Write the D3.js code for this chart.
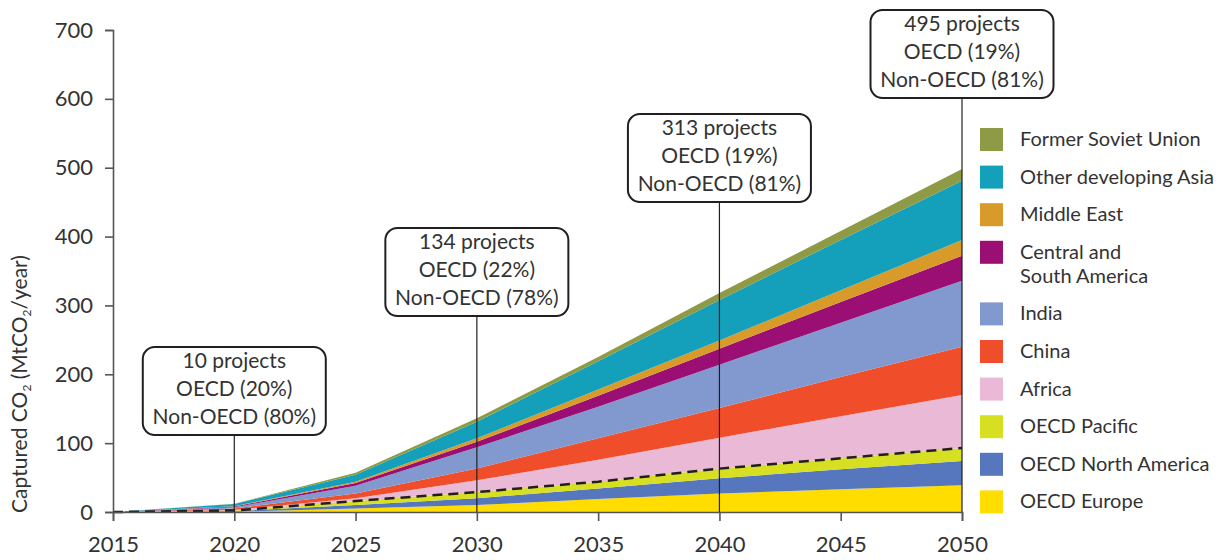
<!doctype html>
<html>
<head>
    <script src="https://d3js.org/d3.v7.min.js"></script>
    <style>
      body { margin: 0; background: #fff; }
      text { font-family: Lato, "Open Sans", sans-serif; fill: #333; }
    </style>
</head>
<body>
    <svg id="chart" width="1231" height="560"></svg>
    <script>
        // Data (MtCO2/year per region)
        const years = [2015, 2020, 2025, 2030, 2035, 2040, 2045, 2050];
        const oecdEurope = [0, 0.5, 5, 10, 19, 27, 33, 39];
        const oecdNorthAmerica = [0, 1, 5, 10, 15, 22, 29, 35];
        const oecdPacific = [0, 0.7, 6, 9, 10, 14, 16, 19];
        const africa = [0, 0.8, 4, 17, 32, 45, 61, 77];
        const china = [0, 2, 7, 17, 31, 43, 57, 70];
        const india = [0, 2, 11, 31, 46, 63, 79, 96];
        const centralSouthAmerica = [0, 1, 4, 8, 16, 23, 30, 36];
        const middleEast = [0, 0.5, 2, 5, 9, 12, 17, 23];
        const otherAsia = [0, 3, 10, 24, 41, 59, 73, 86];
        const formerSoviet = [0, 0.5, 3, 5, 6, 10, 13, 17];

        const seriesNames = ["OECD Europe", "OECD North America", "OECD Pacific", "Africa", "China",
                             "India", "Central and South America", "Middle East", "Other developing Asia", "Former Soviet Union"];
        const seriesValues = [oecdEurope, oecdNorthAmerica, oecdPacific, africa, china,
                              india, centralSouthAmerica, middleEast, otherAsia, formerSoviet];
        const colors = ["#ffdd00", "#5677be", "#d7df23", "#eab9d6", "#f04e2a",
                        "#8199ce", "#9b0e74", "#d89b2a", "#14a0ba", "#8e9a45"];

        const yTicks = [0, 100, 200, 300, 400, 500, 600, 700];
        const xTicks = [2015, 2020, 2025, 2030, 2035, 2040, 2045, 2050];

        // annotation boxes
        const noteYears = [2020, 2030, 2040, 2050];
        const noteProjects = [10, 134, 313, 495];
        const noteOecd = [20, 22, 19, 19];
        const noteTop = [347, 228, 114, 10];

        const svg = d3.select("#chart");
        const margin = { top: 30, left: 113, right: 269, bottom: 48 };
        const width = 1231 - margin.left - margin.right;
        const height = 560 - margin.top - margin.bottom;

        const g = svg.append("g").attr("transform", `translate(${margin.left},${margin.top})`);

        const x = d3.scaleLinear().domain([2015, 2050]).range([0, width]);
        const y = d3.scaleLinear().domain([0, 700]).range([height, 0]);

        // table for the stack
        const table = years.map((yr, i) => {
          const row = { year: yr };
          seriesNames.forEach((n, k) => row[n] = seriesValues[k][i]);
          return row;
        });
        const stacked = d3.stack().keys(seriesNames)(table);

        const area = d3.area()
          .x(d => x(d.data.year))
          .y0(d => y(d[0]))
          .y1(d => y(d[1]));

        g.selectAll(".layer")
          .data(stacked)
          .join("path")
          .attr("class", "layer")
          .attr("fill", (d, i) => colors[i])
          .attr("d", area);

        // dashed OECD total line
        const oecdLine = d3.line()
          .x(d => x(d.data.year))
          .y(d => y(d[1]));
        g.append("path")
          .datum(stacked[2])
          .attr("fill", "none")
          .attr("stroke", "#231f20")
          .attr("stroke-width", 2.5)
          .attr("stroke-dasharray", "10,6")
          .attr("d", oecdLine);

        // axes
        const yAxis = g.append("g")
          .call(d3.axisLeft(y).tickValues(yTicks).tickSize(8).tickPadding(12));
        const xAxis = g.append("g")
          .attr("transform", `translate(0,${height})`)
          .call(d3.axisBottom(x).tickValues(xTicks).tickFormat(d3.format("d")).tickSize(9).tickPadding(15));

        [xAxis, yAxis].forEach(a => {
          a.select(".domain").attr("stroke", "#555").attr("stroke-width", 1.6);
          a.selectAll(".tick line").attr("stroke", "#555").attr("stroke-width", 1.6);
          a.selectAll(".tick text").style("font-size", "22px").attr("fill", "#333");
        });

        // y axis title
        const title = svg.append("text")
          .attr("transform", "translate(27,384) rotate(-90)")
          .attr("text-anchor", "middle")
          .style("font-size", "21px");
        title.append("tspan").text("Captured CO");
        title.append("tspan").text("2").style("font-size", "12px").attr("dy", 4);
        title.append("tspan").text(" (MtCO").attr("dy", -4);
        title.append("tspan").text("2").style("font-size", "12px").attr("dy", 4);
        title.append("tspan").text("/year)").attr("dy", -4);

        // annotations
        const boxW = 183, boxH = 88;
        noteYears.forEach((yr, i) => {
          const cx = margin.left + x(yr);
          const top = noteTop[i];
          svg.append("line")
            .attr("x1", cx).attr("x2", cx)
            .attr("y1", top + boxH).attr("y2", margin.top + height)
            .attr("stroke", "#231f20").attr("stroke-width", 1.2);
          svg.append("rect")
            .attr("x", cx - boxW / 2).attr("y", top)
            .attr("width", boxW).attr("height", boxH)
            .attr("rx", 12)
            .attr("fill", "#fff")
            .attr("stroke", "#231f20").attr("stroke-width", 2);
          const lines = [`${noteProjects[i]} projects`, `OECD (${noteOecd[i]}%)`, `Non-OECD (${100 - noteOecd[i]}%)`];
          const t = svg.append("text")
            .attr("text-anchor", "middle")
            .style("font-size", "21px");
          lines.forEach((s, k) => {
            t.append("tspan")
              .attr("x", cx).attr("y", top + 21 + k * 28)
              .text(s);
          });
        });

        // legend (top to bottom is reverse stacking order)
        const legendOrder = d3.range(seriesNames.length).reverse();
        let ly = 128;
        legendOrder.forEach(k => {
          const name = seriesNames[k];
          const parts = name === "Central and South America" ? ["Central and", "South America"] : [name];
          svg.append("rect")
            .attr("x", 980).attr("y", ly)
            .attr("width", 23).attr("height", 23)
            .attr("fill", colors[k]);
          const t = svg.append("text").style("font-size", "20px");
          parts.forEach((p, j) => {
            t.append("tspan")
              .attr("x", 1020).attr("y", ly + 18 + j * 24)
              .text(p);
          });
          ly += 37.6 + (parts.length - 1) * 24;
        });
    </script>
</body>
</html>
